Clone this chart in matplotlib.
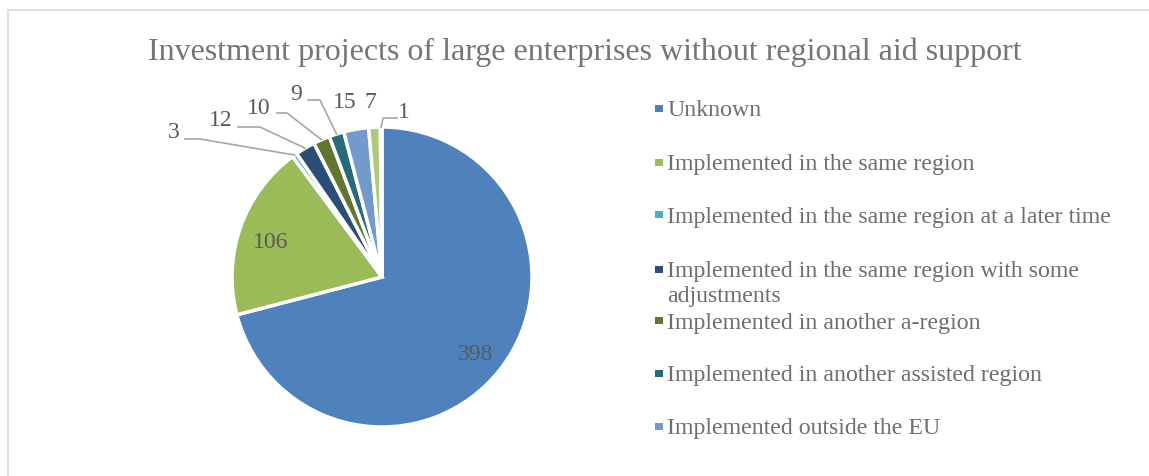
import matplotlib.pyplot as plt
import numpy as np
from matplotlib.patches import Rectangle

plt.rcParams['font.family'] = ['Liberation Serif', 'DejaVu Serif']

title = "Investment projects of large enterprises without regional aid support"
categories = [
    "Unknown",
    "Implemented in the same region",
    "Implemented in the same region at a later time",
    "Implemented in the same region with some\nadjustments",
    "Implemented in another a-region",
    "Implemented in another assisted region",
    "Implemented outside the EU",
]
values = [398, 106, 3, 12, 10, 9, 15, 7, 1]
colors = ['#4F81BD', '#9BBB59', '#4BACC6', '#2C4D75', '#5F7530',
          '#276A7C', '#729ACA', '#AFC97A', '#6FBDD1']

# outside label anchors for the small slices (pixels in the figure)
W, H = 1149, 477
cx, cy, R = 382, 278, 150
outer_label_px = {2: (174, 132), 3: (221, 121), 4: (259, 109), 5: (296, 95),
                  6: (345, 102), 7: (370, 102), 8: (404, 112)}
leader_start_px = {2: (185, 140), 3: (238, 128), 4: (277, 114), 5: (308, 101),
                   8: (397, 119)}
leader_knee_px = {2: (200, 140), 3: (260, 128), 4: (287, 114), 5: (320, 101),
                  8: (383, 119)}

fig = plt.figure(figsize=(W / 100, H / 100), dpi=100)
fig.patches.append(Rectangle((8 / W, -0.1), 1.2, (H - 11) / H + 0.1,
                             transform=fig.transFigure, fill=False,
                             edgecolor='#D9D9D9', linewidth=1.2))

ax = fig.add_axes([(cx - R) / W, (H - cy - R) / H, 2 * R / W, 2 * R / H])
wedges, _ = ax.pie(values, colors=colors, startangle=90, counterclock=False,
                   radius=1, wedgeprops=dict(edgecolor='white', linewidth=2.5))
ax.set_xlim(-1, 1)
ax.set_ylim(-1, 1)
ax.set_aspect('equal')
ax.axis('off')


def to_data(p):
    return (p[0] - cx) / R, (cy - p[1]) / R


for i, (w, v) in enumerate(zip(wedges, values)):
    mid = np.deg2rad((w.theta1 + w.theta2) / 2)
    if i < 2:
        ax.text(0.79 * np.cos(mid), 0.79 * np.sin(mid) - 0.025, str(v),
                ha='center', va='center', fontsize=17, color='#595959')
        continue
    lx, ly = to_data(outer_label_px[i])
    ax.text(lx, ly, str(v), ha='center', va='center', fontsize=17,
            color='#595959')
    if i in leader_start_px:
        sx, sy = to_data(leader_start_px[i])
        kx, ky = to_data(leader_knee_px[i])
        ex, ey = np.cos(mid), np.sin(mid)
        ax.plot([sx, kx, ex], [sy, ky, ey], color='#A6A6A6', lw=1.2,
                clip_on=False)

fig.text(585 / W, 1 - 52 / H, title, ha='center', va='center', fontsize=23,
         color='#757575')

# legend, evenly spaced rows; wrapped names continue below the first line
leg_y = [109, 163, 215, 270, 321, 374, 427]
for name, c, y in zip(categories, colors, leg_y):
    fig.patches.append(Rectangle((655 / W, 1 - (y + 4) / H), 8 / W, 7 / H,
                                 transform=fig.transFigure, facecolor=c,
                                 edgecolor='none'))
    for k, line in enumerate(name.split('\n')):
        fig.text(667 / W, 1 - (y + 2 + 25 * k) / H, line, ha='left',
                 va='center', fontsize=17.2, color='#6E6E6E')

fig.savefig('out.png', dpi=100)
